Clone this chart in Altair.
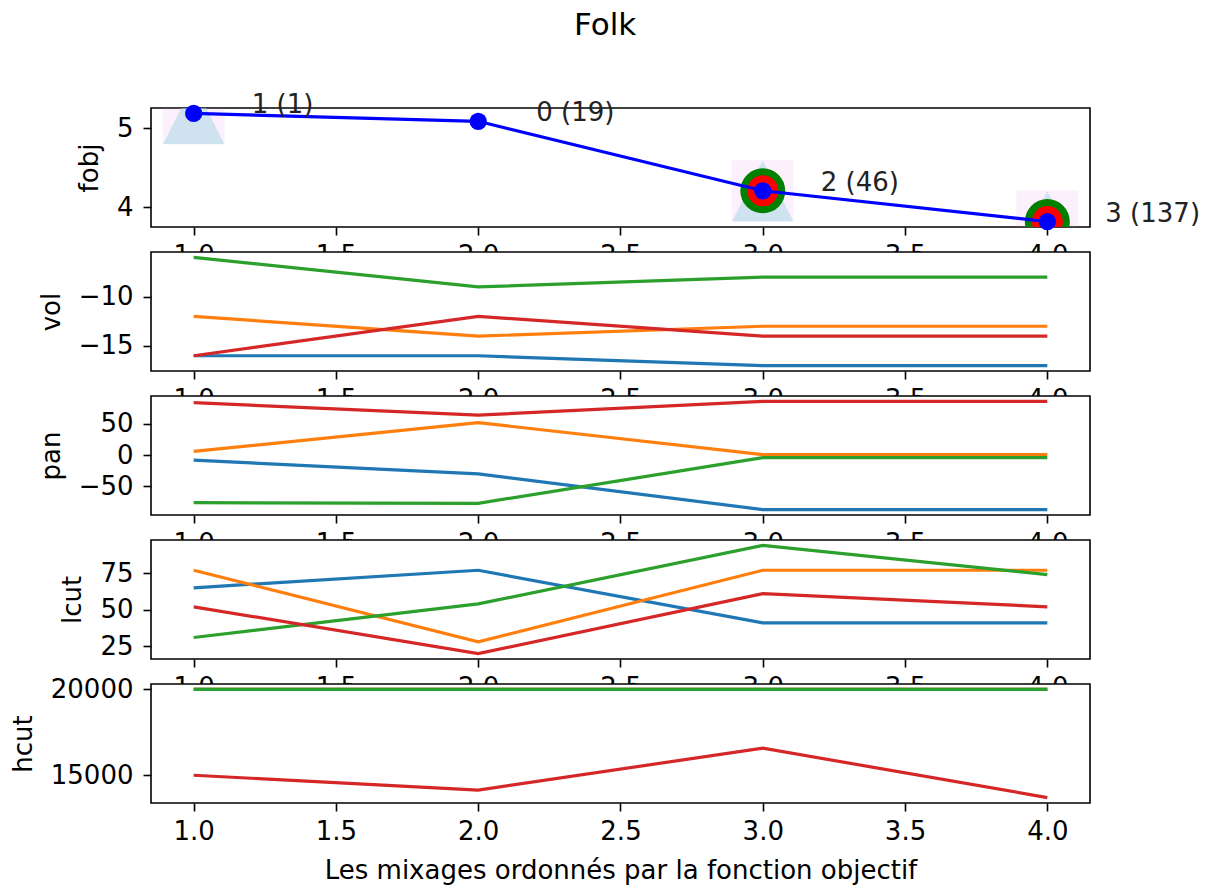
import altair as alt
import pandas as pd

FONT = "DejaVu Sans"
FS = 26

# ---- data ----
x_vals = [1, 2, 3, 4]
x_ticks = [1.0, 1.5, 2.0, 2.5, 3.0, 3.5, 4.0]

fobj = [5.19, 5.09, 4.21, 3.82]
fobj_labels = ["1 (1)", "0 (19)", "2 (46)", "3 (137)"]
triangle_at = [1, 3, 4]
square_at = [1, 3, 4]
circle_at = [3, 4]

series_names = ["0", "1", "2", "3"]
series_colors = ["#1f77b4", "#ff7f0e", "#2ca02c", "#d62728"]

vol_0 = [-16, -16, -17, -17]
vol_1 = [-12, -14, -13, -13]
vol_2 = [-6, -9, -8, -8]
vol_3 = [-16, -12, -14, -14]

pan_0 = [-8, -30, -87, -87]
pan_1 = [6, 52, 1, 1]
pan_2 = [-76, -77, -4, -4]
pan_3 = [84, 64, 86, 86]

lcut_0 = [65, 77, 41, 41]
lcut_1 = [77, 28, 77, 77]
lcut_2 = [31, 54, 94, 74]
lcut_3 = [52, 20, 61, 52]

hcut_0 = [20000, 20000, 20000, 20000]
hcut_1 = [20000, 20000, 20000, 20000]
hcut_2 = [20000, 20000, 20000, 20000]
hcut_3 = [15000, 14140, 16580, 13700]

W, H = 939, 119
X_DOMAIN = [0.85, 4.15]


def long_df(series):
    rows = []
    for name, vals in zip(series_names, series):
        for xv, v in zip(x_vals, vals):
            rows.append({"x": xv, "v": v, "s": name})
    return pd.DataFrame(rows)


def x_axis(title=None):
    kw = dict(values=x_ticks, format=".1f", grid=False, domain=False,
              tickSize=8, tickWidth=1.6, tickColor="black",
              labelFontSize=FS, labelFont=FONT, labelColor="black",
              labelPadding=7, labelFlush=False, labelOverlap=False)
    if title:
        kw.update(title=title, titleFontSize=FS, titleFont=FONT,
                  titleFontWeight="normal", titleColor="black", titlePadding=13)
    else:
        kw.update(title=None)
    return alt.Axis(**kw)


def y_axis(title, ticks, fmt):
    return alt.Axis(values=ticks, title=title, format=fmt, grid=False, domain=False,
                    tickSize=8, tickWidth=1.6, tickColor="black",
                    labelFontSize=FS, labelFont=FONT, labelColor="black",
                    labelPadding=10, labelFlush=False, labelOverlap=False,
                    titleFontSize=FS, titleFont=FONT, titleFontWeight="normal",
                    titleColor="black", titlePadding=14)


def line_panel(series, title, domain, ticks, fmt="d", xtitle=None):
    df = long_df(series)
    return alt.Chart(df).mark_line(strokeWidth=3.2, clip=True).encode(
        x=alt.X("x:Q", scale=alt.Scale(domain=X_DOMAIN, nice=False, zero=False),
                axis=x_axis(xtitle)),
        y=alt.Y("v:Q", scale=alt.Scale(domain=domain, nice=False, zero=False),
                axis=y_axis(title, ticks, fmt)),
        color=alt.Color("s:N", scale=alt.Scale(domain=series_names, range=series_colors),
                        legend=None),
    ).properties(width=W, height=H)


# ---- top panel (fobj) ----
fdf = pd.DataFrame({"x": x_vals, "v": fobj, "label": fobj_labels})
tri_df = pd.DataFrame({"x": triangle_at, "v": [fobj[i - 1] for i in triangle_at]})
sq_df = pd.DataFrame({"x": square_at, "v": [fobj[i - 1] for i in square_at]})
circ_df = pd.DataFrame({"x": circle_at, "v": [fobj[i - 1] for i in circle_at]})

fx = alt.X("x:Q", scale=alt.Scale(domain=X_DOMAIN, nice=False, zero=False), axis=x_axis())
fy = alt.Y("v:Q", scale=alt.Scale(domain=[3.7515, 5.2585], nice=False, zero=False),
           axis=y_axis("fobj", [4, 5], "d"))

squares = alt.Chart(sq_df).mark_point(shape="square", filled=True, size=3844,
                                      color="violet", opacity=0.12, clip=True).encode(x=fx, y=fy)
triangles = alt.Chart(tri_df).mark_point(shape="M0,-1L-1,1L1,1Z", filled=True, size=3721,
                                         color="#9fd3e3", opacity=0.5, clip=True).encode(x=fx, y=fy)
green_c = alt.Chart(circ_df).mark_point(shape="circle", filled=True, size=2025,
                                        color="green", opacity=1, clip=True).encode(x=fx, y=fy)
red_c = alt.Chart(circ_df).mark_point(shape="circle", filled=True, size=961,
                                      color="red", opacity=1, clip=True).encode(x=fx, y=fy)
bline = alt.Chart(fdf).mark_line(color="blue", strokeWidth=3.2).encode(x=fx, y=fy)
bpts = alt.Chart(fdf).mark_point(shape="circle", filled=True, size=300,
                                 color="blue", opacity=1).encode(x=fx, y=fy)
texts = alt.Chart(fdf).mark_text(align="left", baseline="alphabetic", dx=58,
                                 fontSize=FS, font=FONT, color="#222222").encode(
    x=fx, y=fy, text="label:N")

top = alt.layer(squares, triangles, green_c, red_c, bline, bpts, texts).properties(width=W, height=H)

p_vol = line_panel([vol_0, vol_1, vol_2, vol_3], "vol", [-17.55, -5.45], [-15, -10])
p_pan = line_panel([pan_0, pan_1, pan_2, pan_3], "pan", [-95.65, 94.65], [-50, 0, 50])
p_lcut = line_panel([lcut_0, lcut_1, lcut_2, lcut_3], "lcut", [16.3, 97.7], [25, 50, 75])
p_hcut = line_panel([hcut_0, hcut_1, hcut_2, hcut_3], "hcut", [13385, 20315], [15000, 20000],
                    xtitle="Les mixages ordonnés par la fonction objectif")

chart = alt.vconcat(
    top, p_vol, p_pan, p_lcut, p_hcut,
    spacing=25, bounds="flush",
    title=alt.Title("Folk", fontSize=31, font=FONT, fontWeight="normal",
                    color="black", anchor="middle", offset=50),
).resolve_scale(
    x="independent", y="independent", color="independent"
).configure_view(
    stroke="black", strokeWidth=1.6, fill="white"
).properties(
    background="white", padding={"left": 9, "top": 9, "right": 0, "bottom": 5}
)

chart.save("out.html", embed_options={"renderer": "svg", "actions": False})
